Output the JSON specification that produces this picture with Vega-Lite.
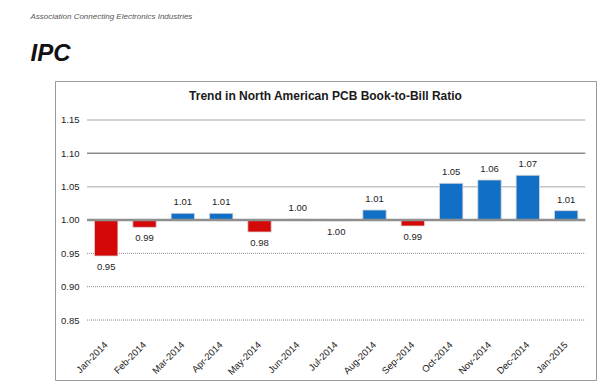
{
  "$schema": "https://vega.github.io/schema/vega-lite/v6.json",
  "background": "white",
  "padding": {"left": 30, "top": 12, "right": 7, "bottom": 0},
  "title": {
    "text": "Association Connecting Electronics Industries",
    "subtitle": "IPC",
    "anchor": "start",
    "dx": -24,
    "font": "Liberation Sans",
    "fontSize": 8,
    "fontStyle": "italic",
    "fontWeight": "normal",
    "color": "#555555",
    "subtitleFont": "Liberation Sans",
    "subtitleFontSize": 24,
    "subtitleFontStyle": "italic",
    "subtitleFontWeight": "bold",
    "subtitleColor": "#111111",
    "subtitlePadding": 21,
    "offset": 15
  },
  "datasets": {
    "ratio": [
      {"month": "Jan-2014", "value": 0.946},
      {"month": "Feb-2014", "value": 0.989},
      {"month": "Mar-2014", "value": 1.010},
      {"month": "Apr-2014", "value": 1.010},
      {"month": "May-2014", "value": 0.982},
      {"month": "Jun-2014", "value": 1.001},
      {"month": "Jul-2014", "value": 0.999},
      {"month": "Aug-2014", "value": 1.015},
      {"month": "Sep-2014", "value": 0.991},
      {"month": "Oct-2014", "value": 1.055},
      {"month": "Nov-2014", "value": 1.060},
      {"month": "Dec-2014", "value": 1.067},
      {"month": "Jan-2015", "value": 1.014}
    ],
    "grid": [
      {"v": 1.15}, {"v": 1.10}, {"v": 1.05}, {"v": 0.95}, {"v": 0.90}, {"v": 0.85}
    ]
  },
  "config": {
    "view": {"stroke": "#9a9a9a", "strokeWidth": 1},
    "concat": {"spacing": 0}
  },
  "vconcat": [
    {
      "width": 541,
      "height": 299,
      "title": {
        "text": "Trend in North American PCB Book-to-Bill Ratio",
        "offset": -22,
        "anchor": "middle",
        "frame": "group",
        "font": "Liberation Sans",
        "fontSize": 12,
        "fontWeight": "bold",
        "color": "#1a1a1a"
      },
      "layer": [
        {
          "data": {"name": "grid"},
          "mark": {"type": "rule", "strokeWidth": 1.5},
          "transform": [{"filter": "datum.v > 1"}],
          "encoding": {
            "x": {"datum": "Jan-2014", "type": "nominal", "bandPosition": 0},
            "x2": {"datum": "Jan-2015", "bandPosition": 1},
            "y": {"field": "v", "type": "quantitative"},
            "color": {"condition": {"test": "datum.v == 1.1", "value": "#8c8c8c"}, "value": "#c4c4c4"}
          }
        },
        {
          "data": {"name": "grid"},
          "mark": {"type": "rule", "strokeWidth": 1, "strokeDash": [1, 1], "color": "#8a8a8a"},
          "transform": [{"filter": "datum.v < 1"}],
          "encoding": {
            "x": {"datum": "Jan-2014", "type": "nominal", "bandPosition": 0},
            "x2": {"datum": "Jan-2015", "bandPosition": 1},
            "y": {"field": "v", "type": "quantitative"}
          }
        },
        {
          "data": {"name": "ratio"},
          "mark": {"type": "bar", "width": {"band": 0.61}, "stroke": "#d8d8d8", "strokeWidth": 0.8},
          "encoding": {
            "x": {
              "field": "month",
              "type": "nominal",
              "sort": null,
              "scale": {
                "domain": ["Jan-2014", "Feb-2014", "Mar-2014", "Apr-2014", "May-2014", "Jun-2014", "Jul-2014", "Aug-2014", "Sep-2014", "Oct-2014", "Nov-2014", "Dec-2014", "Jan-2015"],
                "paddingInner": 0,
                "paddingOuter": 0.557,
                "align": 0.75
              },
              "axis": {
                "title": null,
                "orient": "bottom",
                "offset": -38,
                "labelAngle": -45,
                "labelPadding": 1,
                "labelFont": "Liberation Sans",
                "labelFontSize": 9.5,
                "labelColor": "#222222",
                "domain": false,
                "ticks": false,
                "grid": false
              }
            },
            "y": {
              "field": "value",
              "type": "quantitative",
              "scale": {"domain": [0.7601, 1.2084], "nice": false, "zero": false},
              "axis": {
                "title": null,
                "orient": "left",
                "offset": -32,
                "values": [0.85, 0.9, 0.95, 1.0, 1.05, 1.1, 1.15],
                "format": ".2f",
                "labelPadding": 8,
                "labelFont": "Liberation Sans",
                "labelFontSize": 9.5,
                "labelColor": "#222222",
                "domain": false,
                "ticks": false,
                "grid": false
              }
            },
            "y2": {"datum": 1},
            "color": {"condition": {"test": "datum.value < 1", "value": "#d50808"}, "value": "#1170c6"}
          }
        },
        {
          "data": {"name": "grid"},
          "mark": {"type": "rule", "strokeWidth": 2.5, "color": "#8f8f8f"},
          "transform": [{"filter": "datum.v == 0.95"}],
          "encoding": {
            "x": {"datum": "Jan-2014", "type": "nominal", "bandPosition": 0},
            "x2": {"datum": "Jan-2015", "bandPosition": 1},
            "y": {"datum": 1, "type": "quantitative"}
          }
        },
        {
          "data": {"name": "ratio"},
          "mark": {"type": "text", "baseline": "bottom", "dy": -6, "font": "Liberation Sans", "fontSize": 9.5, "color": "#222222"},
          "transform": [{"filter": "datum.value >= 1"}],
          "encoding": {
            "x": {"field": "month", "type": "nominal", "sort": null},
            "y": {"field": "value", "type": "quantitative"},
            "text": {"field": "value", "type": "quantitative", "format": ".2f"}
          }
        },
        {
          "data": {"name": "ratio"},
          "mark": {"type": "text", "baseline": "top", "dy": 6, "font": "Liberation Sans", "fontSize": 9.5, "color": "#222222"},
          "transform": [{"filter": "datum.value < 1"}],
          "encoding": {
            "x": {"field": "month", "type": "nominal", "sort": null},
            "y": {"field": "value", "type": "quantitative"},
            "text": {"field": "value", "type": "quantitative", "format": ".2f"}
          }
        }
      ]
    }
  ]
}
